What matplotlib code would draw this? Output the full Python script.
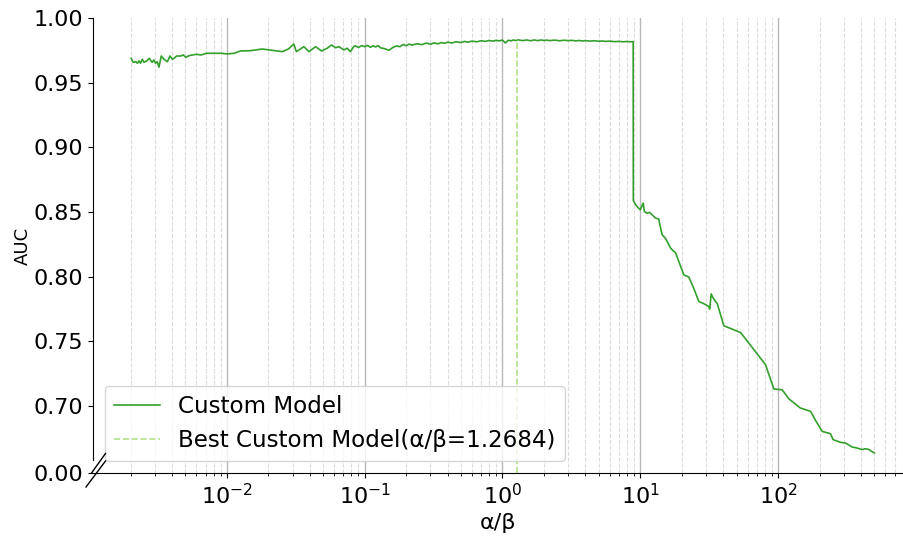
import numpy as np
import matplotlib.pyplot as plt
from matplotlib.lines import Line2D

# alpha/beta ratio and the AUC
ratio = [0.00202, 0.00209, 0.00218, 0.00224, 0.0023, 0.00236, 0.00243, 0.0025,
         0.00262, 0.00273, 0.00279, 0.00287, 0.00295, 0.00303, 0.00312, 0.00321,
         0.00334, 0.00349, 0.0037, 0.00386, 0.00402, 0.00413, 0.00432, 0.00462,
         0.00483, 0.00503, 0.00532, 0.00563, 0.00598, 0.00649, 0.0071, 0.00807,
         0.00905, 0.01005, 0.0113, 0.01256, 0.0148, 0.018, 0.0252, 0.0279,
         0.0306, 0.0319, 0.0334, 0.0362, 0.0394, 0.044, 0.0486, 0.0534,
         0.0574, 0.0615, 0.0651, 0.0706, 0.0745, 0.0787, 0.0832, 0.085,
         0.09, 0.095,
         0.10, 0.105, 0.11, 0.115, 0.12, 0.125, 0.13, 0.14, 0.15, 0.16, 0.17,
         0.18, 0.19, 0.20, 0.21, 0.22, 0.24, 0.26, 0.28, 0.30, 0.32, 0.34,
         0.36, 0.38, 0.40, 0.43, 0.46, 0.50, 0.53, 0.56, 0.60, 0.65, 0.70,
         0.75, 0.80, 0.85, 0.90, 0.95,
         1.0, 1.05, 1.1, 1.15, 1.2, 1.25, 1.3, 1.4, 1.5, 1.6, 1.7, 1.8, 1.9,
         2.0, 2.1, 2.2, 2.4, 2.6, 2.8, 3.0, 3.2, 3.4, 3.6, 3.8, 4.0, 4.3, 4.6,
         5.0, 5.3, 5.6, 6.0, 6.5, 7.0, 7.5, 8.0, 8.5, 8.88,
         8.9, 9.2, 9.6, 10.0, 10.5, 10.7, 11.2, 11.7, 12.2, 12.9, 13.6, 14.4,
         15.2, 16.6, 17.5, 18.0, 20.7, 22.5, 24.4, 26.6, 28.9, 31.4, 31.9,
         32.7, 33.5, 35.2, 36.2, 40.4, 53.4, 81.1, 93.2, 107, 120, 145, 172,
         187, 209, 240, 251, 284, 308, 345, 375, 408, 430, 455, 482, 501]
auc = [0.9688, 0.9657, 0.9662, 0.9650, 0.9668, 0.9650, 0.9681, 0.9657,
       0.9668, 0.9688, 0.9675, 0.9657, 0.9675, 0.9650, 0.9662, 0.9619,
       0.9706, 0.9681, 0.9662, 0.9706, 0.9681, 0.9688, 0.9706, 0.9706,
       0.9714, 0.9696, 0.9709, 0.9714, 0.9719, 0.9714, 0.9727, 0.9727,
       0.9727, 0.9722, 0.9727, 0.9745, 0.9747, 0.9760, 0.9740, 0.9760,
       0.9799, 0.9740, 0.9753, 0.9778, 0.9740, 0.9778, 0.9745, 0.9766,
       0.9791, 0.9770, 0.9778, 0.9753, 0.9766, 0.9740, 0.9778, 0.9785,
       0.9772, 0.9786,
       0.9778, 0.9788, 0.9773, 0.9785, 0.9776, 0.9787, 0.9770, 0.9762,
       0.9750, 0.9772, 0.9784, 0.9778, 0.9795, 0.9786, 0.9798, 0.9790,
       0.9801, 0.9794, 0.9806, 0.9797, 0.9808, 0.9800, 0.9810, 0.9804,
       0.9813, 0.9807, 0.9816, 0.9810, 0.9819, 0.9813, 0.9821, 0.9816,
       0.9824, 0.9819, 0.9826, 0.9821, 0.9827, 0.9823,
       0.9829, 0.9807, 0.9828, 0.9823, 0.9830, 0.9825, 0.9831, 0.9825,
       0.9830, 0.9824, 0.9830, 0.9825, 0.9830, 0.9826, 0.9829, 0.9825,
       0.9829, 0.9824, 0.9828, 0.9825, 0.9827, 0.9823, 0.9826, 0.9822,
       0.9825, 0.9821, 0.9824, 0.9820, 0.9822, 0.9819, 0.9821, 0.9817,
       0.9819, 0.9816, 0.9818, 0.9816, 0.9817,
       0.8588, 0.8560, 0.8535, 0.8516, 0.8568, 0.8503, 0.8490, 0.8496,
       0.8477, 0.8452, 0.8445, 0.8323, 0.8297, 0.8220, 0.8194, 0.8186,
       0.8013, 0.7996, 0.7910, 0.7807, 0.7790, 0.7768, 0.7748, 0.7866,
       0.7840, 0.7807, 0.7790, 0.7619, 0.7567, 0.7318, 0.7130, 0.7124,
       0.7053, 0.6983, 0.6957, 0.6887, 0.6802, 0.6784, 0.6738, 0.6717,
       0.6712, 0.6681, 0.6673, 0.6661, 0.6668, 0.6662, 0.6645, 0.6635]

best_ratio = 1.2684
best_auc = 0.9828

y_ticks = [0.648, 0.70, 0.75, 0.80, 0.85, 0.90, 0.95, 1.00]
y_labels = ['0.00', '0.70', '0.75', '0.80', '0.85', '0.90', '0.95', '1.00']

W, H = 904, 536
fig = plt.figure(figsize=(W / 100, H / 100), dpi=100)
ax = fig.add_axes([93 / W, (H - 473) / H, (W - 93) / W, (473 - 18) / H])

ax.plot(ratio, auc, color='#33a02c', lw=1.2, label='Custom Model')
ax.vlines(best_ratio, 0.648, best_auc, colors='#b2df8a', linestyles='--', lw=1.2,
          label=f'Best Custom Model(α/β={best_ratio})')

ax.set_xscale('log')
ax.set_xlim(0.001067, 820)
ax.set_ylim(0.648, 1.0)
ax.set_yticks(y_ticks)
ax.set_yticklabels(y_labels)
ax.tick_params(axis='both', labelsize=16)

ax.grid(True, which='major', axis='x', color='#b8b8b8', lw=1.0, ls='-')
ax.grid(True, which='minor', axis='x', color='#dcdcdc', lw=0.8, ls='--')
ax.set_axisbelow(True)

ax.spines['top'].set_visible(False)
ax.spines['right'].set_visible(False)
ax.spines['left'].set_bounds(0.658, 1.0)

ax.set_xlabel('α/β', fontsize=16)
ax.set_ylabel('AUC', fontsize=13)
ax.yaxis.set_label_coords(-0.075, 0.5)

ax.legend(loc='lower left', fontsize=16.6)

# broken-axis marks
for (x0, y0), (x1, y1) in [((91.5, 473), (105.5, 453.5)), ((86, 487), (105.5, 461))]:
    fig.add_artist(Line2D([x0 / W, x1 / W], [1 - y0 / H, 1 - y1 / H],
                          transform=fig.transFigure, color='k', lw=1.0))

fig.savefig('out.png', dpi=100)
